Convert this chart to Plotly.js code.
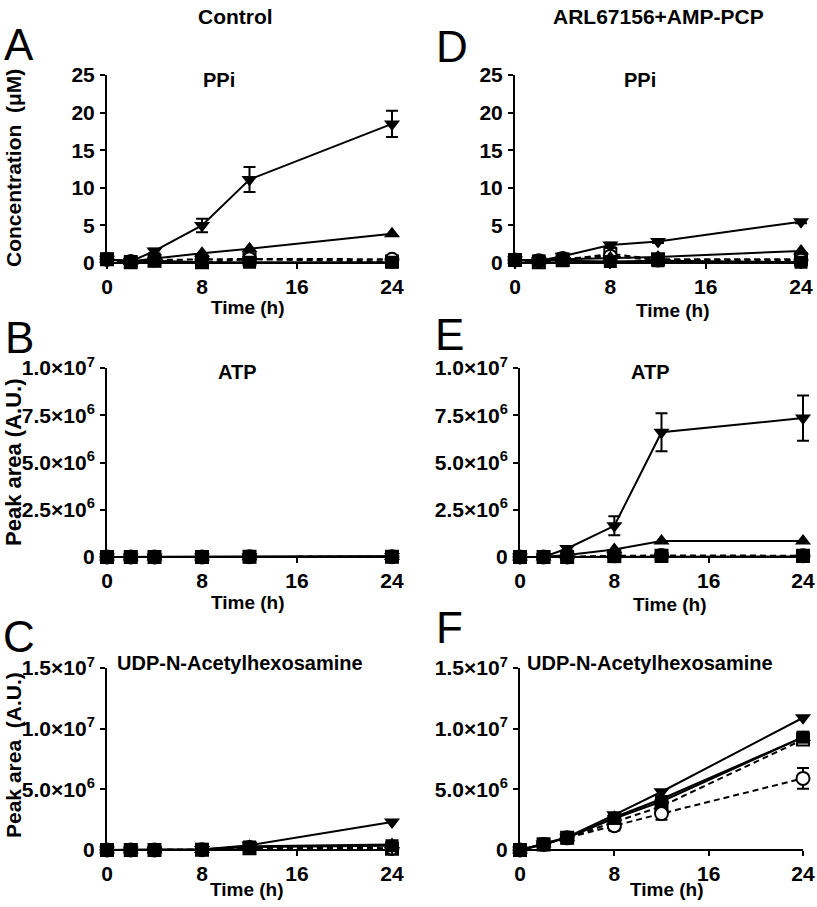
<!DOCTYPE html>
<html>
<head>
<meta charset="utf-8">
<script src="https://cdn.plot.ly/plotly-3.0.1.min.js"></script>
<style>html,body{margin:0;padding:0;background:#fff;}#chart{width:817px;height:907px;}</style>
</head>
<body>
<div id="chart"></div>
<script>
// ---------------- DATA ----------------
const hours = [0, 2, 4, 8, 12, 24];
const xTicks = [0, 8, 16, 24];

// Panel A: PPi, Control (µM)
const ppiCtrlDown      = [0.5, 0.2, 1.6, 5.0, 11.1, 18.5];
const ppiCtrlDownErr   = [0.1, 0.1, 0.3, 0.9, 1.65, 1.75];
const ppiCtrlUp        = [0.5, 0.2, 0.6, 1.3, 1.9, 3.9];
const ppiCtrlFilledSq  = [0.5, 0.2, 0.3, 0.1, 0.1, 0.1];
const ppiCtrlOpenSq    = [0.5, 0.1, 0.3, 0.1, 0.5, 0.2];
const ppiCtrlOpenCirc  = [0.5, 0.2, 0.4, 0.5, 0.55, 0.5];

// Panel D: PPi, ARL67156+AMP-PCP (µM)
const ppiArlDown       = [0.4, 0.3, 0.9, 2.4, 2.85, 5.5];
const ppiArlDownErr    = [0.1, 0.1, 0.4, 0.3, 0.2, 0.2];
const ppiArlUp         = [0.4, 0.3, 0.5, 0.7, 0.8, 1.6];
const ppiArlFilledSq   = [0.4, 0.3, 0.3, 0.2, 0.3, 0.1];
const ppiArlOpenSq     = [0.4, 0.1, 0.4, 1.2, 0.5, 0.5];
const ppiArlOpenCirc   = [0.4, 0.3, 0.6, 0.9, 0.4, 0.4];

// Panel B: ATP, Control (peak area)
const atpCtrlDown      = [0, 0, 0, 0, 0.01e6, 0.03e6];
const atpCtrlUp        = [0, 0, 0, 0, 0.01e6, 0.02e6];
const atpCtrlFilledSq  = [0, 0, 0, 0, 0.01e6, 0.02e6];
const atpCtrlOpenSq    = [0, 0, 0, 0, 0.01e6, 0.01e6];
const atpCtrlOpenCirc  = [0, 0, 0, 0, 0.01e6, 0.01e6];

// Panel E: ATP, ARL67156+AMP-PCP (peak area)
const atpArlDown       = [0, 0, 0.45e6, 1.65e6, 6.6e6, 7.35e6];
const atpArlDownErr    = [0, 0, 0.1e6, 0.5e6, 1.0e6, 1.2e6];
const atpArlUp         = [0, 0, 0.1e6, 0.4e6, 0.85e6, 0.85e6];
const atpArlFilledSq   = [0, 0, 0, 0.02e6, 0.03e6, 0.03e6];
const atpArlOpenSq     = [0, 0, 0, 0.05e6, 0.06e6, 0.06e6];
const atpArlOpenCirc   = [0, 0, 0, 0.06e6, 0.08e6, 0.07e6];

// Panel C: UDP-N-Acetylhexosamine, Control (peak area)
const udpCtrlDown      = [0, 0, 0, 0.05e6, 0.4e6, 2.3e6];
const udpCtrlUp        = [0, 0, 0, 0.05e6, 0.3e6, 0.45e6];
const udpCtrlFilledSq  = [0, 0, 0, 0.05e6, 0.25e6, 0.35e6];
const udpCtrlOpenSq    = [0, 0, 0, 0.02e6, 0.15e6, 0.1e6];
const udpCtrlOpenCirc  = [0, 0, 0, 0.02e6, 0.2e6, 0.15e6];

// Panel F: UDP-N-Acetylhexosamine, ARL67156+AMP-PCP (peak area)
const udpArlDown       = [0, 0.5e6, 1.05e6, 2.9e6, 4.8e6, 10.9e6];
const udpArlUp         = [0, 0.5e6, 1.0e6, 2.7e6, 4.2e6, 9.3e6];
const udpArlFilledSq   = [0, 0.5e6, 1.0e6, 2.6e6, 4.0e6, 9.3e6];
const udpArlOpenSq     = [0, 0.45e6, 1.0e6, 2.3e6, 3.6e6, 9.1e6];
const udpArlOpenCirc   = [0, 0.45e6, 1.0e6, 2.0e6, 3.0e6, 5.9e6];
const udpArlOpenCircErr= [0, 0.05e6, 0.1e6, 0.4e6, 0.5e6, 0.85e6];

// Tick labels
const ppiTickVals = [0, 5, 10, 15, 20, 25];
const ppiTickText = ['0', '5', '10', '15', '20', '25'];
const atpTickVals = [0, 2.5e6, 5e6, 7.5e6, 1e7];
const atpTickText = ['0', '2.5×10<sup>6</sup>', '5.0×10<sup>6</sup>', '7.5×10<sup>6</sup>', '1.0×10<sup>7</sup>'];
const udpTickVals = [0, 5e6, 1e7, 1.5e7];
const udpTickText = ['0', '5.0×10<sup>6</sup>', '1.0×10<sup>7</sup>', '1.5×10<sup>7</sup>'];

// ---------------- STYLE / BUILD ----------------
const FONT = '"Liberation Sans", Arial, sans-serif';
const W = 817, H = 907;
const px = v => v / W;
const py = v => 1 - v / H;
const XMAX = 24;          // last x tick / end of the drawn x axis line
const XRANGE = [0, 25];   // a little room so end caps are not clipped

const styles = {
  openSq:   {symbol: 'square', size: 12, color: '#fff', line: {color: '#000', width: 2}, dash: '6px,4px'},
  openCirc: {symbol: 'circle', size: 13, color: '#fff', line: {color: '#000', width: 2}, dash: '6px,4px'},
  filledSq: {symbol: 'square', size: 13, color: '#000', line: {color: '#000', width: 0}, dash: 'solid'},
  up:       {symbol: 'triangle-up', size: 14, color: '#000', line: {color: '#000', width: 0}, dash: 'solid'},
  down:     {symbol: 'triangle-down', size: 14, color: '#000', line: {color: '#000', width: 0}, dash: 'solid'}
};

const traces = [];
function addSeries(ax, ay, yvals, styleKey, err) {
  const s = styles[styleKey];
  const t = {
    type: 'scatter', mode: 'lines+markers', x: hours, y: yvals,
    xaxis: ax, yaxis: ay, cliponaxis: false, showlegend: false,
    line: {color: '#000', width: 2, dash: s.dash},
    marker: {symbol: s.symbol, size: s.size, color: s.color, line: s.line}
  };
  if (err) t.error_y = {type: 'data', array: err, visible: true, color: '#000', thickness: 2, width: 6};
  traces.push(t);
}

const panels = [
  {ax: 'x',  ay: 'y',  d: [ppiCtrlOpenSq, ppiCtrlOpenCirc, ppiCtrlFilledSq, ppiCtrlUp, ppiCtrlDown], e: ppiCtrlDownErr},
  {ax: 'x2', ay: 'y2', d: [ppiArlOpenSq, ppiArlOpenCirc, ppiArlFilledSq, ppiArlUp, ppiArlDown], e: ppiArlDownErr},
  {ax: 'x3', ay: 'y3', d: [atpCtrlOpenSq, atpCtrlOpenCirc, atpCtrlUp, atpCtrlDown, atpCtrlFilledSq], order: ['openSq','openCirc','up','down','filledSq']},
  {ax: 'x4', ay: 'y4', d: [atpArlOpenSq, atpArlOpenCirc, atpArlFilledSq, atpArlUp, atpArlDown], e: atpArlDownErr},
  {ax: 'x5', ay: 'y5', d: [udpCtrlOpenSq, udpCtrlOpenCirc, udpCtrlUp, udpCtrlDown, udpCtrlFilledSq], order: ['openSq','openCirc','up','down','filledSq']},
  {ax: 'x6', ay: 'y6', d: [udpArlOpenSq, udpArlOpenCirc, udpArlFilledSq, udpArlUp, udpArlDown], circErr: udpArlOpenCircErr}
];
panels.forEach(p => {
  const order = p.order || ['openSq', 'openCirc', 'filledSq', 'up', 'down'];
  order.forEach((k, i) => {
    let err = null;
    if (k === 'down' && p.e) err = p.e;
    if (k === 'openCirc' && p.circErr) err = p.circErr;
    addSeries(p.ax, p.ay, p.d[i], k, err);
  });
});

const bold = arr => arr.map(t => '<b>' + t + '</b>');
const tickFont = {family: FONT, size: 21, color: '#000'};
function xAxis(dom, anchor) {
  return {domain: dom, anchor: anchor, range: XRANGE, tickvals: xTicks, ticktext: bold(xTicks.map(String)),
    ticks: 'outside', ticklen: 5, tickwidth: 2, tickcolor: '#000', showline: false,
    showgrid: false, zeroline: false, tickfont: tickFont, fixedrange: true, ticklabelstandoff: 0};
}
function yAxis(dom, anchor, range, vals, text) {
  return {domain: dom, anchor: anchor, range: range, tickvals: vals, ticktext: bold(text),
    ticks: 'outside', ticklen: 5, tickwidth: 2, tickcolor: '#000', showline: true, linewidth: 2,
    linecolor: '#000', showgrid: false, zeroline: false, tickfont: tickFont, fixedrange: true, ticklabelstandoff: 1};
}

// x domains: 0 → left px, 24 → right px; range extended to 25
function xDom(x0, x24) { const u = (x24 - x0) / XMAX; return [px(x0), px(x0 + u * XRANGE[1])]; }
const lx = xDom(107, 392);
const rxD = xDom(515, 801);
const rxE = xDom(520, 803);
const yA = [py(263), py(75)];
const yB = [py(557), py(368)];
const yC = [py(850), py(668)];

const layout = {
  width: W, height: H, margin: {l: 0, r: 0, t: 0, b: 0},
  paper_bgcolor: '#fff', plot_bgcolor: 'rgba(0,0,0,0)', showlegend: false,
  font: {family: FONT, color: '#000'},
  xaxis:  xAxis(lx, 'y'),  yaxis:  yAxis(yA, 'x', [0, 25], ppiTickVals, ppiTickText),
  xaxis2: xAxis(rxD, 'y2'), yaxis2: yAxis(yA, 'x2', [0, 25], ppiTickVals, ppiTickText),
  xaxis3: xAxis(lx, 'y3'), yaxis3: yAxis(yB, 'x3', [0, 1e7], atpTickVals, atpTickText),
  xaxis4: xAxis(rxE, 'y4'), yaxis4: yAxis(yB, 'x4', [0, 1e7], atpTickVals, atpTickText),
  xaxis5: xAxis(lx, 'y5'), yaxis5: yAxis(yC, 'x5', [0, 1.5e7], udpTickVals, udpTickText),
  xaxis6: xAxis(rxE, 'y6'), yaxis6: yAxis(yC, 'x6', [0, 1.5e7], udpTickVals, udpTickText),
  annotations: [], shapes: []
};

// x axis lines drawn from 0 to 24 only
[['x', yA], ['x2', yA], ['x3', yB], ['x4', yB], ['x5', yC], ['x6', yC]].forEach(([xr, dom]) => {
  layout.shapes.push({type: 'line', xref: xr, yref: 'paper', x0: 0, x1: XMAX, y0: dom[0], y1: dom[0],
    line: {color: '#000', width: 2}, layer: 'below'});
});

function ann(text, x, y, font, extra) {
  layout.annotations.push(Object.assign({text: text, x: px(x), y: py(y), xref: 'paper', yref: 'paper',
    showarrow: false, xanchor: 'center', yanchor: 'middle', font: font}, extra || {}));
}
const headFont = {family: FONT, size: 21, color: '#000', weight: 'bold'};
const letterFont = {family: FONT, size: 44, color: '#000'};
const subFont = {family: FONT, size: 20, color: '#000', weight: 'bold'};
const axFont = {family: FONT, size: 19, color: '#000', weight: 'bold'};
const yTitleFont = {family: FONT, size: 21, color: '#000', weight: 'bold'};
const yTitleFontB = {family: FONT, size: 22, color: '#000', weight: 'bold'};

ann('<b>Control</b>', 236, 17, headFont);
ann('<b>ARL67156+AMP-PCP</b>', 658, 17, headFont);
ann('A', 19, 45, letterFont); ann('D', 452, 46, letterFont);
ann('B', 19, 337, letterFont); ann('E', 450, 334, letterFont);
ann('C', 19, 636, letterFont); ann('F', 450, 627, letterFont);
ann('<b>PPi</b>', 219, 80, subFont); ann('<b>PPi</b>', 640, 80, subFont);
ann('<b>ATP</b>', 237, 372, subFont); ann('<b>ATP</b>', 650, 372, subFont);
ann('<b>UDP-N-Acetylhexosamine</b>', 240, 663, subFont);
ann('<b>UDP-N-Acetylhexosamine</b>', 650, 663, subFont);
ann('<b>Time (h)</b>', 248, 308, axFont); ann('<b>Time (h)</b>', 673, 310, axFont);
ann('<b>Time (h)</b>', 248, 602, axFont); ann('<b>Time (h)</b>', 670, 604, axFont);
ann('<b>Time (h)</b>', 247, 889, axFont); ann('<b>Time (h)</b>', 667, 889, axFont);
ann('<b>Concentration\u00a0\u00a0(\u03bcM)</b>', 13, 168, yTitleFont, {textangle: -90});
ann('<b>Peak area (A.U.)</b>', 13, 462, yTitleFontB, {textangle: -90});
ann('<b>Peak area\u00a0\u00a0(A.U.)</b>', 13, 755, yTitleFont, {textangle: -90});

Plotly.newPlot('chart', traces, layout, {staticPlot: true, displayModeBar: false});
</script>
</body>
</html>
